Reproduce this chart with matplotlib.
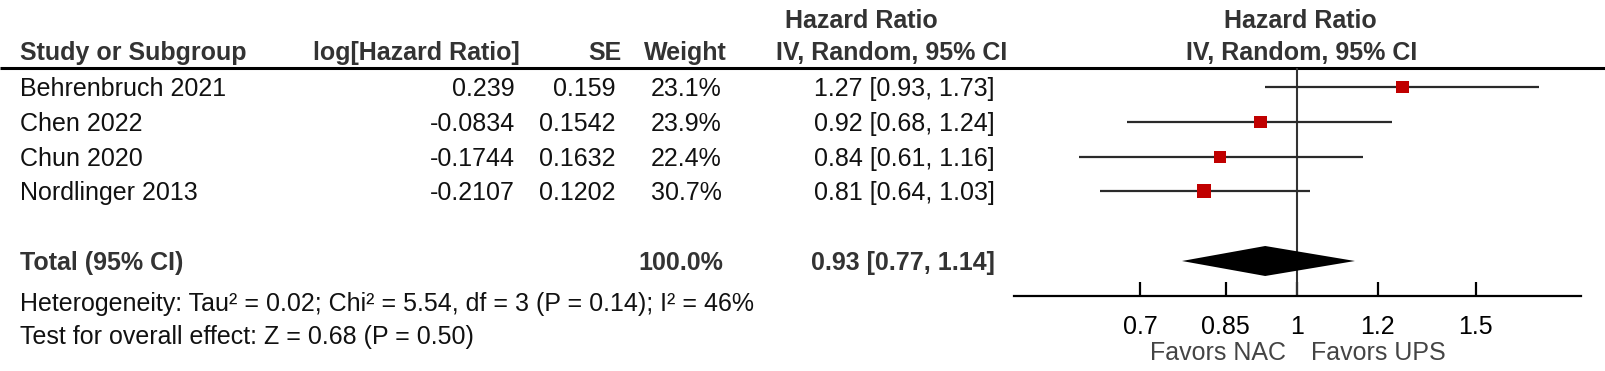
import numpy as np
import matplotlib
matplotlib.use("Agg")
import matplotlib.pyplot as plt
from matplotlib.ticker import NullLocator

# ---------------- data ----------------
studies = ["Behrenbruch 2021", "Chen 2022", "Chun 2020", "Nordlinger 2013"]
log_hr_text = ["0.239", "-0.0834", "-0.1744", "-0.2107"]
se_text = ["0.159", "0.1542", "0.1632", "0.1202"]
weights = [23.1, 23.9, 22.4, 30.7]
hr = [1.27, 0.92, 0.84, 0.81]
ci_low = [0.93, 0.68, 0.61, 0.64]
ci_high = [1.73, 1.24, 1.16, 1.03]
total_hr = 0.93
total_low = 0.77
total_high = 1.14
total_weight = 100.0
heterogeneity = "Heterogeneity: Tau² = 0.02; Chi² = 5.54, df = 3 (P = 0.14); I² = 46%"
overall = "Test for overall effect: Z = 0.68 (P = 0.50)"
tick_values = [0.7, 0.85, 1, 1.2, 1.5]
tick_labels = ["0.7", "0.85", "1", "1.2", "1.5"]
favors_left = "Favors NAC"
favors_right = "Favors UPS"

# ---------------- layout ----------------
W, H = 1605, 371
plt.rcParams["font.family"] = ["Liberation Sans", "DejaVu Sans"]
FS = 18
HEAD = "#333333"
BODY = "#111111"
BASE = 9  # cap-centre to baseline offset (px)

fig = plt.figure(figsize=(W / 100, H / 100), dpi=100)
fig.patch.set_facecolor("white")

ax_t = fig.add_axes([0, 0, 1, 1])
ax_t.set_xlim(0, W)
ax_t.set_ylim(H, 0)
ax_t.axis("off")

def txt(x, y, s, ha="left", bold=False, color=BODY):
    ax_t.text(x, y + BASE, s, ha=ha, va="baseline", fontsize=FS,
              fontweight="bold" if bold else "normal", color=color)

# headers
txt(861, 19, "Hazard Ratio", ha="center", bold=True, color=HEAD)
txt(1300, 19, "Hazard Ratio", ha="center", bold=True, color=HEAD)
txt(20, 51, "Study or Subgroup", bold=True, color=HEAD)
txt(520, 51, "log[Hazard Ratio]", ha="right", bold=True, color=HEAD)
txt(622, 51, "SE", ha="right", bold=True, color=HEAD)
txt(727, 51, "Weight", ha="right", bold=True, color=HEAD)
txt(1007, 51, "IV, Random, 95% CI", ha="right", bold=True, color=HEAD)
txt(1302, 51, "IV, Random, 95% CI", ha="center", bold=True, color=HEAD)
ax_t.hlines(68, 0, W, color="black", lw=2.2)

row_y = [87, 122, 157, 191]
for i, y in enumerate(row_y):
    txt(20, y, studies[i])
    txt(515, y, log_hr_text[i], ha="right")
    txt(615, y, se_text[i], ha="right")
    txt(722, y, f"{weights[i]:.1f}%", ha="right")
    txt(995, y, f"{hr[i]:.2f} [{ci_low[i]:.2f}, {ci_high[i]:.2f}]", ha="right")

total_y = 261
txt(20, total_y, "Total (95% CI)", bold=True, color=HEAD)
txt(723, total_y, f"{total_weight:.1f}%", ha="right", bold=True, color=HEAD)
txt(995, total_y, f"{total_hr:.2f} [{total_low:.2f}, {total_high:.2f}]", ha="right",
    bold=True, color=HEAD)
txt(20, 302, heterogeneity)
txt(20, 335, overall)

txt(1286, 351, favors_left, ha="right", color="#444444")
txt(1311, 351, favors_right, ha="left", color="#444444")

# ---------------- forest axes ----------------
x0, x1 = 1014, 1581
ax_f = fig.add_axes([x0 / W, 0, (x1 - x0) / W, 1])
ax_f.patch.set_visible(False)
ax_f.set_xscale("log")
ax_f.set_xlim(0.526, 1.904)
ax_f.set_ylim(H, 0)
for s in ["top", "left", "right"]:
    ax_f.spines[s].set_visible(False)
ax_f.spines["bottom"].set_position(("data", 296))
ax_f.spines["bottom"].set_linewidth(1.6)
ax_f.yaxis.set_visible(False)
ax_f.xaxis.set_minor_locator(NullLocator())
ax_f.set_xticks(tick_values)
ax_f.set_xticklabels(tick_labels)
ax_f.xaxis.set_minor_locator(NullLocator())
ax_f.tick_params(axis="x", direction="in", length=10, width=1.6, pad=14,
                 labelsize=FS, labelcolor="black", color="black")

ax_f.vlines(1, 68, 296, color="#333333", lw=1.5)

ax_f.hlines(row_y, ci_low, ci_high, color="#2a2a2a", lw=1.6, zorder=2)
side_px = 2.6 * np.sqrt(np.array(weights))
ax_f.scatter(hr, row_y, marker="s", s=(side_px * 0.72) ** 2, color="#C00000",
             edgecolors="none", zorder=3)

ax_f.fill([total_low, total_hr, total_high, total_hr],
          [total_y, total_y - 15, total_y, total_y + 15], color="black",
          lw=0, zorder=3)

fig.savefig("out.png", dpi=100, facecolor="white")
